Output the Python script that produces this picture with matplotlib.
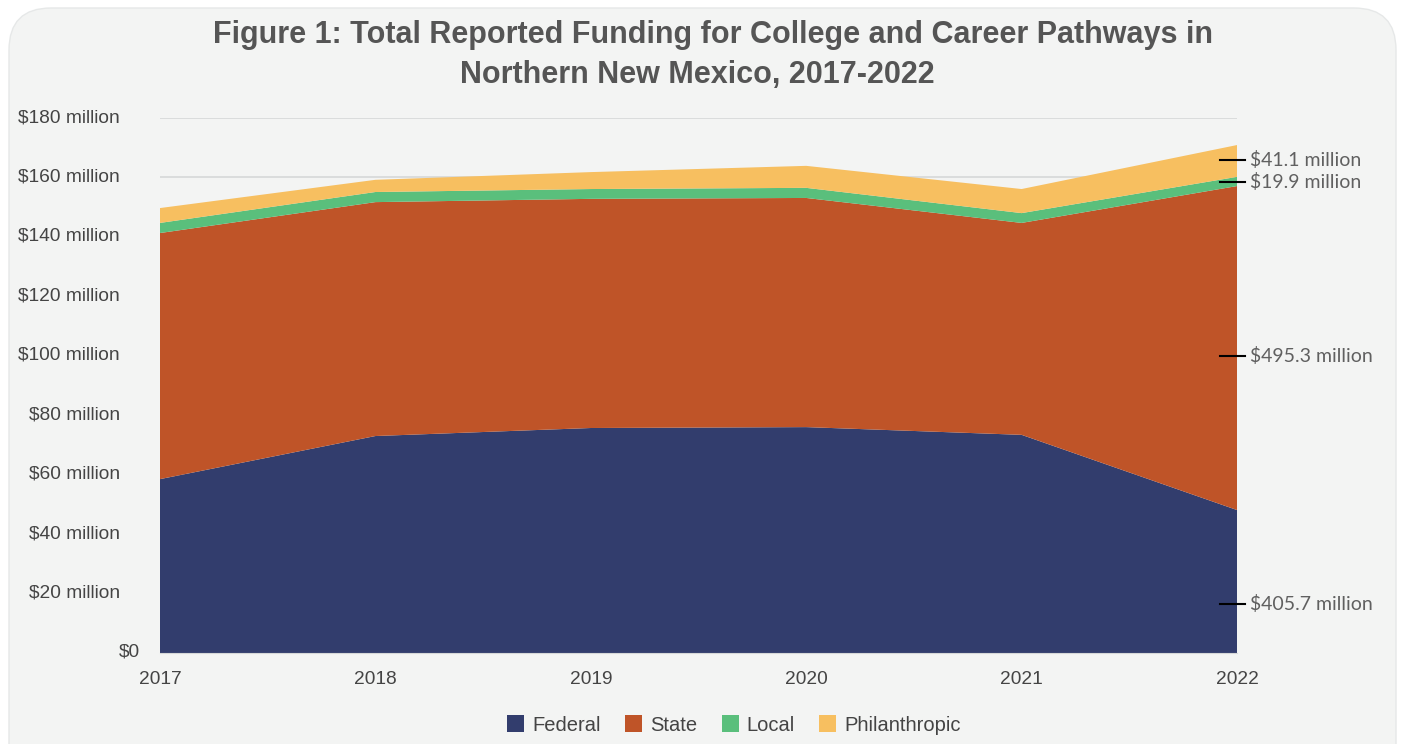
import matplotlib.pyplot as plt
import matplotlib.transforms as mtransforms
from matplotlib.patches import FancyBboxPatch, Patch

# data (millions of dollars)
years = [2017, 2018, 2019, 2020, 2021, 2022]
federal = [58.5, 73.0, 75.7, 76.0, 73.4, 48.1]
state = [82.8, 78.7, 77.1, 77.1, 71.3, 109.0]
local = [3.4, 3.4, 3.3, 3.4, 3.3, 3.1]
philanthropic = [5.0, 4.1, 5.7, 7.4, 8.1, 10.7]

series_names = ['Federal', 'State', 'Local', 'Philanthropic']
colors = ['#323d6d', '#bf5428', '#5abf7c', '#f7bf60']

total_labels = ['$405.7 million', '$495.3 million', '$19.9 million', '$41.1 million']
label_y = [16.5, 99.9, 158.4, 165.9]

yticks = [0, 20, 40, 60, 80, 100, 120, 140, 160, 180]
ytick_labels = ['$0'] + [f'${v} million' for v in yticks[1:]]

fig = plt.figure(figsize=(14.03, 7.44), dpi=100)
fig.patch.set_facecolor('white')

# rounded light panel (pixel coords)
panel = FancyBboxPatch((9, -60), 1387, 796,
                       boxstyle='round,pad=0,rounding_size=42',
                       transform=mtransforms.IdentityTransform(), facecolor='#f3f4f3',
                       edgecolor='#e6e8e8', linewidth=1, zorder=-10)
fig.patches.append(panel)

ax = fig.add_axes([160 / 1403, (744 - 653) / 744, (1237 - 160) / 1403, (653 - 118) / 744])
ax.set_facecolor('none')

ax.stackplot(years, federal, state, local, philanthropic, colors=colors,
             labels=series_names, linewidth=0, zorder=2)

ax.set_xlim(2017, 2022)
ax.set_ylim(0, 180)
ax.set_xticks(years)
ax.set_yticks(yticks)
ax.set_yticklabels(ytick_labels)
ax.tick_params(axis='y', length=0, pad=29, labelsize=13.8, labelcolor='#444444')
ax.tick_params(axis='x', length=0, pad=13, labelsize=13.8, labelcolor='#444444')
for lab in ax.get_yticklabels() + ax.get_xticklabels():
    lab.set_fontfamily('Liberation Sans')
for i, lab in enumerate(ax.get_yticklabels()):
    dx = 20 / 100 if i == 0 else 0
    lab.set_transform(lab.get_transform()
                      + mtransforms.ScaledTranslation(dx, 2.5 / 100, fig.dpi_scale_trans))

ax.grid(axis='y', color='#d6d8d8', linewidth=1.2, zorder=1)
ax.set_axisbelow(True)
for s in ['top', 'right', 'left']:
    ax.spines[s].set_visible(False)
ax.spines['bottom'].set_color('#d6d8d8')

# totals on the right
lbl_tr = mtransforms.blended_transform_factory(fig.transFigure, ax.transData)
for lab, yv in zip(total_labels, label_y):
    ax.plot([1220 / 1403, 1245 / 1403], [yv, yv], transform=lbl_tr, color='black',
            lw=1.5, clip_on=False, zorder=5)
    ax.text(1250 / 1403, yv, lab, transform=lbl_tr,
            va='center', ha='left', fontsize=14, color='#606060', family='Lato')

fig.text(713 / 1403, 1 - 35 / 744, 'Figure 1: Total Reported Funding for College and Career Pathways in',
         ha='center', va='center', fontsize=22, fontweight='bold', color='#555555', family='Liberation Sans')
fig.text(697 / 1403, 1 - 75 / 744, 'Northern New Mexico, 2017-2022',
         ha='center', va='center', fontsize=22, fontweight='bold', color='#555555', family='Liberation Sans')

handles = [Patch(facecolor=c, edgecolor='none') for c in colors]
leg = fig.legend(handles, series_names, loc='center', bbox_to_anchor=(734 / 1403, 1 - 725 / 744),
                 ncol=4, frameon=False, handlelength=0.85, handleheight=0.85,
                 handletextpad=0.4, columnspacing=1.2,
                 prop={'family': 'Liberation Sans', 'size': 14.5})
for t in leg.get_texts():
    t.set_color('#444444')

fig.savefig('out.png', dpi=100, facecolor='white')
